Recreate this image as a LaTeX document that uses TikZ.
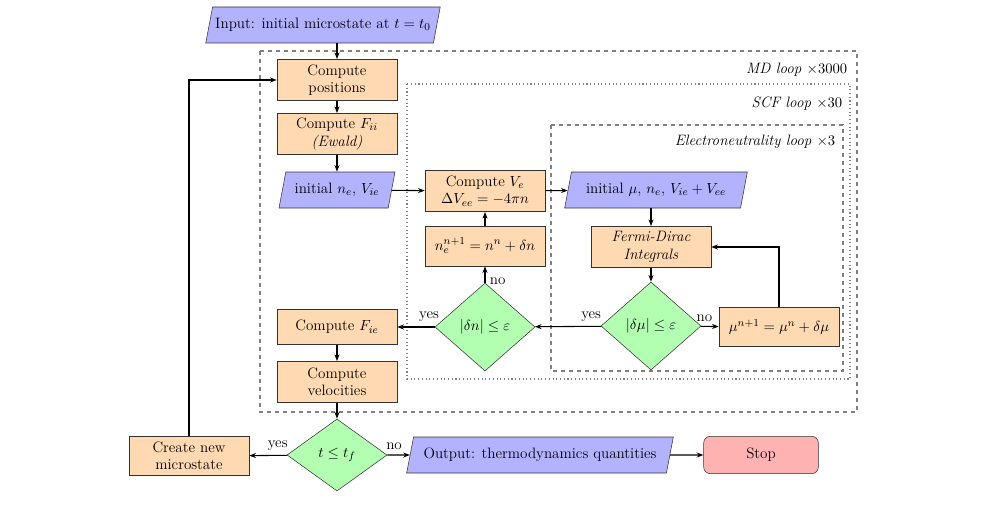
\documentclass[tikz,border=0pt]{standalone}
\usetikzlibrary{shapes.geometric,arrows.meta}
\begin{document}
\begin{tikzpicture}[x=0.75pt,y=-0.75pt,
  every node/.style={font=\fontsize{11.3}{13}\selectfont},
  proc/.style={draw=black!80,fill=orange!30,minimum width=90pt,minimum height=31pt,align=center,inner sep=1pt},
  io/.style={draw=black!80,fill=blue!30,trapezium,trapezium left angle=70,trapezium right angle=110,trapezium stretches body=true,minimum height=27pt,align=center,inner sep=2pt},
  dec/.style={draw=black!80,fill=green!30,diamond,minimum width=75pt,minimum height=66pt,inner sep=0pt},
  term/.style={draw=black!80,fill=red!30,rounded corners=5pt,minimum width=86pt,minimum height=28pt},
  arr/.style={-{Stealth[length=5pt]},thick},
  loopl/.style={anchor=east,font=\fontsize{11.3}{13}\selectfont\itshape}]
\useasboundingbox (0,0) rectangle (996,517);
\draw[dashed,gray,thick] (260,51) rectangle (857,412);
\draw[dotted,gray,thick] (407,84) rectangle (850,379);
\draw[dashed,gray,thick] (551,125) rectangle (843,371);
\node[loopl] (mdl) at (852,70) {MD loop $\times3000$};
\node[loopl] (scfl) at (847,104) {SCF loop $\times30$};
\node[loopl] (enl) at (840,142) {Electroneutrality loop $\times3$};

\node[io,minimum width=167pt] (in) at (323,25) {Input: initial microstate at $t=t_0$};
\node[proc] (pos) at (337,80) {Compute\\positions};
\node[proc] (fii) at (337,134) {Compute $F_{ii}$\\\textit{(Ewald)}};
\node[io,minimum width=87pt] (ini) at (337,190) {initial $n_e$, $V_{ie}$};
\node[proc] (ve) at (485,191) {Compute $V_e$\\$\Delta V_{ee}=-4\pi n$};
\node[proc,minimum height=30pt] (ne) at (485,246) {$n_e^{n+1}=n^n+\delta n$};
\node[dec] (dn) at (485,327) {$|\delta n|\le\varepsilon$};
\node[io,minimum width=137pt] (imu) at (656,190) {initial $\mu$, $n_e$, $V_{ie}+V_{ee}$};
\node[proc] (fd) at (651,247) {\textit{Fermi-Dirac}\\\textit{Integrals}};
\node[dec] (dmu) at (651,326) {$|\delta\mu|\le\varepsilon$};
\node[proc,minimum height=29pt] (mu) at (779,327) {$\mu^{n+1}=\mu^n+\delta\mu$};
\node[proc,minimum height=26pt] (fie) at (337,327) {Compute $F_{ie}$};
\node[proc] (vel) at (337,382) {Compute\\velocities};
\node[dec,minimum height=54pt] (tt) at (337,455) {$t\le t_f$};
\node[proc,minimum height=29pt] (cr) at (189,456) {Create new\\microstate};
\node[io,minimum width=200pt] (out) at (540,455) {Output: thermodynamics quantities};
\node[term] (stop) at (761,455) {Stop};

\draw[arr] (in.south -| pos.north) -- (pos);
\draw[arr] (pos) -- (fii);
\draw[arr] (fii) -- (ini);
\draw[arr] (ini) -- (ve);
\draw[arr] (ve) -- (imu);
\draw[arr] (imu.south -| fd.north) -- (fd);
\draw[arr] (fd) -- (dmu);
\draw[arr] (dmu) -- node[above,pos=0.2] (no1) {no} (mu);
\draw[arr] (mu.north) |- (fd.east);
\draw[arr] (dmu) -- node[above,pos=0.15] (yes1) {yes} (dn);
\draw[arr] (dn) -- node[right,pos=0.1] (no2) {no} (ne);
\draw[arr] (ne) -- (ve);
\draw[arr] (dn) -- node[above,pos=0.15] (yes2) {yes} (fie);
\draw[arr] (fie) -- (vel);
\draw[arr] (vel) -- (tt);
\draw[arr] (tt) -- node[above,pos=0.25] (yes3) {yes} (cr);
\draw[arr] (tt) -- node[above,pos=0.3] (no3) {no} (out);
\draw[arr] (out) -- (stop);
\draw[arr] (cr.north) |- (pos.west);
\end{tikzpicture}
\end{document}
